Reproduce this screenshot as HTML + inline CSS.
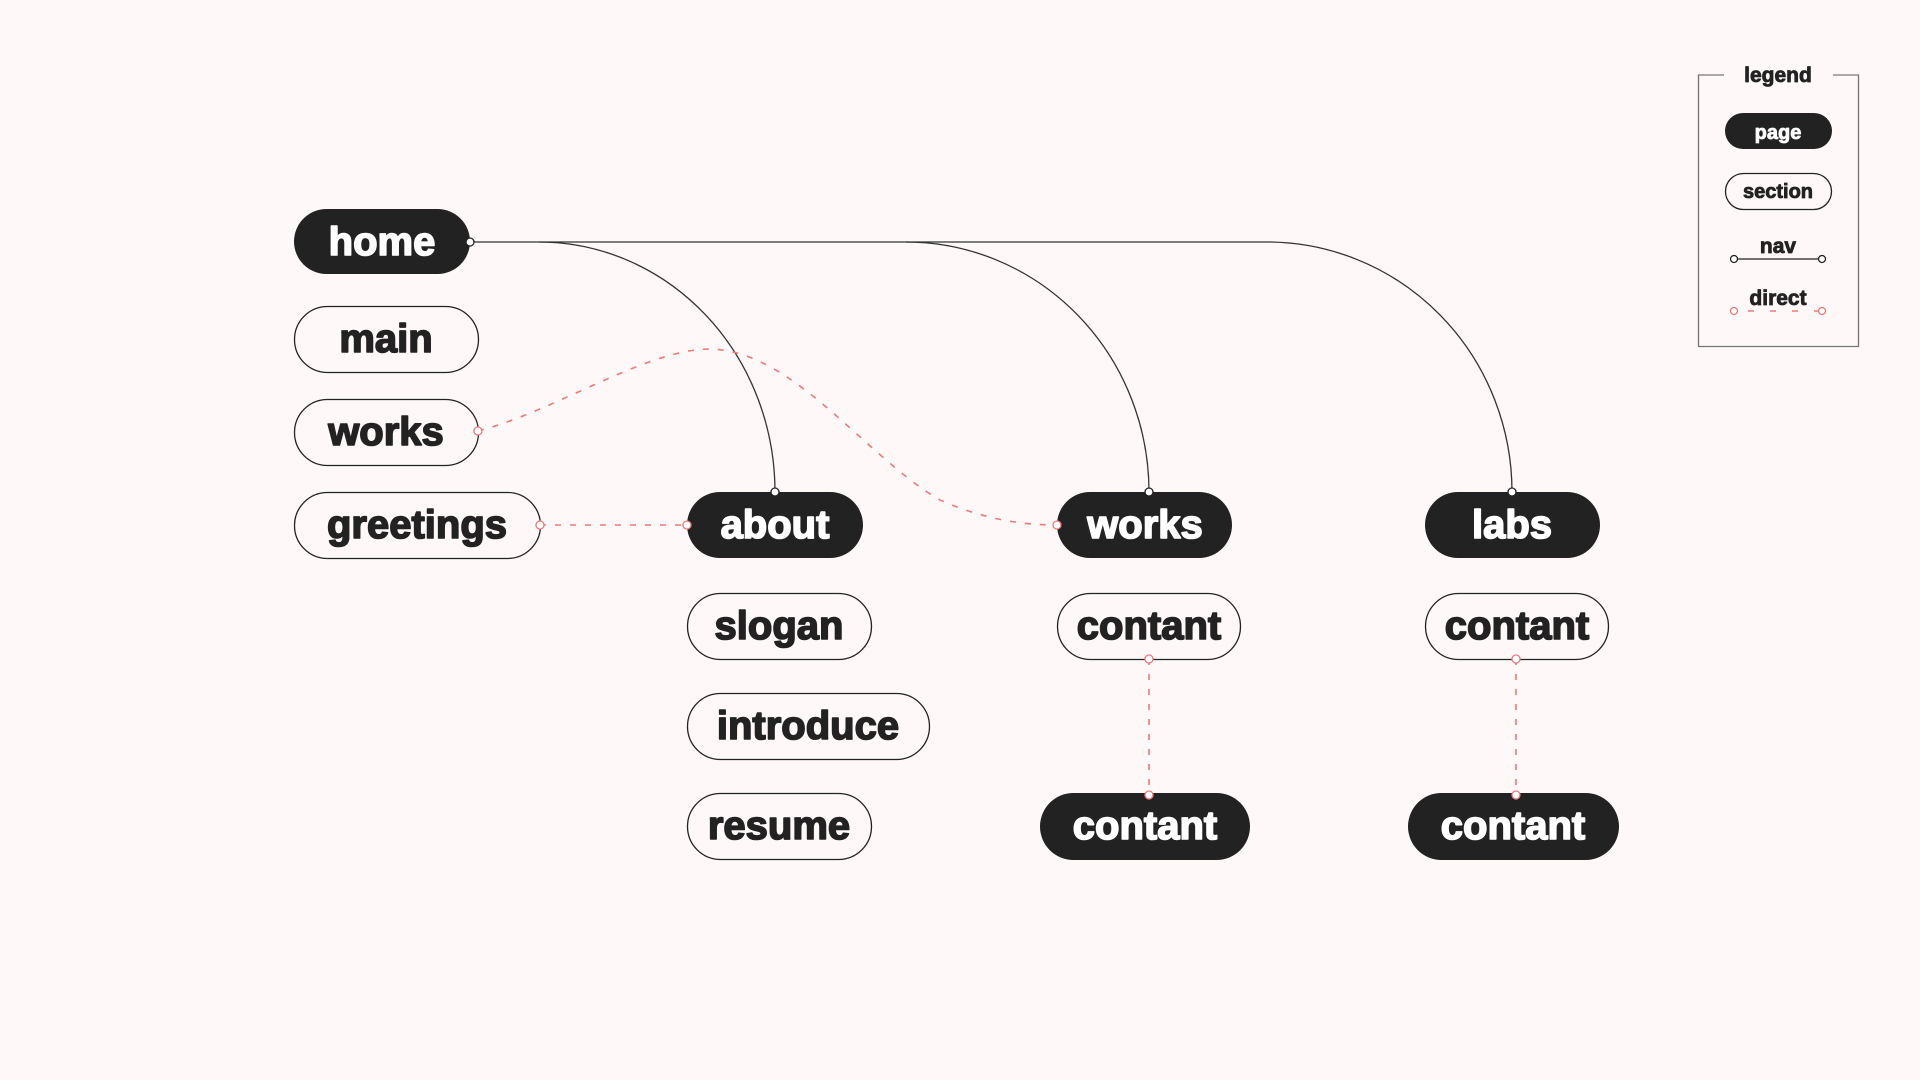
<!DOCTYPE html>
<html><head><meta charset="utf-8"><style>
html,body{margin:0;padding:0;background:#fef8f8;}
svg{display:block}
text{font-family:"Liberation Sans",sans-serif;font-weight:700;stroke-linejoin:round;}
</style></head><body>
<svg width="1920" height="1080" viewBox="0 0 1920 1080" xmlns="http://www.w3.org/2000/svg">
<rect width="1920" height="1080" fill="#fef8f8"/>
<g fill="none" stroke="#333" stroke-width="1.3">
<path d="M470 242 H1267"/>
<path d="M539 242 A236 250 0 0 1 775 492"/>
<path d="M906 242 A243 250 0 0 1 1149 492"/>
<path d="M1267 242 A245 250 0 0 1 1512 492"/>
</g>
<g fill="none" stroke="#f07878" stroke-width="1.6" stroke-dasharray="6 9">
<path d="M478 431 C560 410 660 340 722 350 C800 360 870 460 940 500 C990 522 1030 525 1057 525"/>
<path d="M540 525 H687"/>
<path d="M1149 659 V795"/>
<path d="M1516 659 V795"/>
</g>
<g font-size="40" text-anchor="middle" stroke-width="1.6">
<rect x="294" y="209" width="176" height="65" rx="32.5" fill="#222"/>
<text x="382" y="255" fill="#fff" stroke="#fff">home</text>
<rect x="294.5" y="306.5" width="184" height="66" rx="33" fill="none" stroke="#222" stroke-width="1.3"/>
<text x="386" y="352" fill="#222" stroke="#222">main</text>
<rect x="294.5" y="399.5" width="184" height="66" rx="33" fill="none" stroke="#222" stroke-width="1.3"/>
<text x="386" y="445" fill="#222" stroke="#222">works</text>
<rect x="294.5" y="492.5" width="246" height="66" rx="33" fill="none" stroke="#222" stroke-width="1.3"/>
<text x="417" y="538" fill="#222" stroke="#222">greetings</text>

<rect x="687" y="492" width="176" height="66" rx="33" fill="#222"/>
<text x="775" y="538" fill="#fff" stroke="#fff">about</text>
<rect x="687.5" y="593.5" width="184" height="66" rx="33" fill="none" stroke="#222" stroke-width="1.3"/>
<text x="779" y="639" fill="#222" stroke="#222">slogan</text>
<rect x="687.5" y="693.5" width="242" height="66" rx="33" fill="none" stroke="#222" stroke-width="1.3"/>
<text x="808" y="739" fill="#222" stroke="#222">introduce</text>
<rect x="687.5" y="793.5" width="184" height="66" rx="33" fill="none" stroke="#222" stroke-width="1.3"/>
<text x="779" y="839" fill="#222" stroke="#222">resume</text>

<rect x="1057" y="492" width="175" height="66" rx="33" fill="#222"/>
<text x="1145" y="538" fill="#fff" stroke="#fff">works</text>
<rect x="1057.5" y="593.5" width="183" height="66" rx="33" fill="none" stroke="#222" stroke-width="1.3"/>
<text x="1149" y="639" fill="#222" stroke="#222">contant</text>
<rect x="1040" y="793" width="210" height="67" rx="33.5" fill="#222"/>
<text x="1145" y="839" fill="#fff" stroke="#fff">contant</text>

<rect x="1425" y="492" width="175" height="66" rx="33" fill="#222"/>
<text x="1512" y="538" fill="#fff" stroke="#fff">labs</text>
<rect x="1425.5" y="593.5" width="183" height="66" rx="33" fill="none" stroke="#222" stroke-width="1.3"/>
<text x="1517" y="639" fill="#222" stroke="#222">contant</text>
<rect x="1408" y="793" width="211" height="67" rx="33.5" fill="#222"/>
<text x="1513" y="839" fill="#fff" stroke="#fff">contant</text>
</g>
<g fill="#fff" stroke="#222" stroke-width="1.3">
<circle cx="470" cy="242" r="4"/>
<circle cx="775" cy="492" r="4"/>
<circle cx="1149" cy="492" r="4"/>
<circle cx="1512" cy="492" r="4"/>
</g>
<g fill="#fff" stroke="#f07878" stroke-width="1.3">
<circle cx="478" cy="431" r="4"/>
<circle cx="1057" cy="525" r="4"/>
<circle cx="540" cy="525" r="4"/>
<circle cx="687" cy="525" r="4"/>
<circle cx="1149" cy="659" r="4"/>
<circle cx="1149" cy="795" r="4"/>
<circle cx="1516" cy="659" r="4"/>
<circle cx="1516" cy="795" r="4"/>
</g>
<path d="M1724 75 H1698.5 V346.5 H1858.5 V75 H1833" fill="none" stroke="#777" stroke-width="1.3"/>
<g text-anchor="middle" font-size="21" stroke-width="0.8">
<text x="1778" y="82" fill="#222" stroke="#222">legend</text>
<rect x="1725" y="113" width="107" height="36" rx="18" fill="#222"/>
<text x="1778" y="139" fill="#fff" stroke="#fff" font-size="20">page</text>
<rect x="1725.5" y="173.5" width="106" height="36" rx="18" fill="none" stroke="#222" stroke-width="1.3"/>
<text x="1778" y="198" fill="#222" stroke="#222" font-size="20">section</text>
<text x="1778" y="253" fill="#222" stroke="#222">nav</text>
<text x="1778" y="305" fill="#222" stroke="#222">direct</text>
</g>
<line x1="1734" y1="259" x2="1822" y2="259" stroke="#222" stroke-width="1.3"/>
<line x1="1734" y1="311" x2="1822" y2="311" stroke="#f07878" stroke-width="1.6" stroke-dasharray="6 16" stroke-dashoffset="-14"/>
<g fill="#fff" stroke-width="1.3">
<circle cx="1734" cy="259" r="3.5" stroke="#222"/>
<circle cx="1822" cy="259" r="3.5" stroke="#222"/>
<circle cx="1734" cy="311" r="3.5" stroke="#f07878"/>
<circle cx="1822" cy="311" r="3.5" stroke="#f07878"/>
</g>
</svg>
</body></html>
